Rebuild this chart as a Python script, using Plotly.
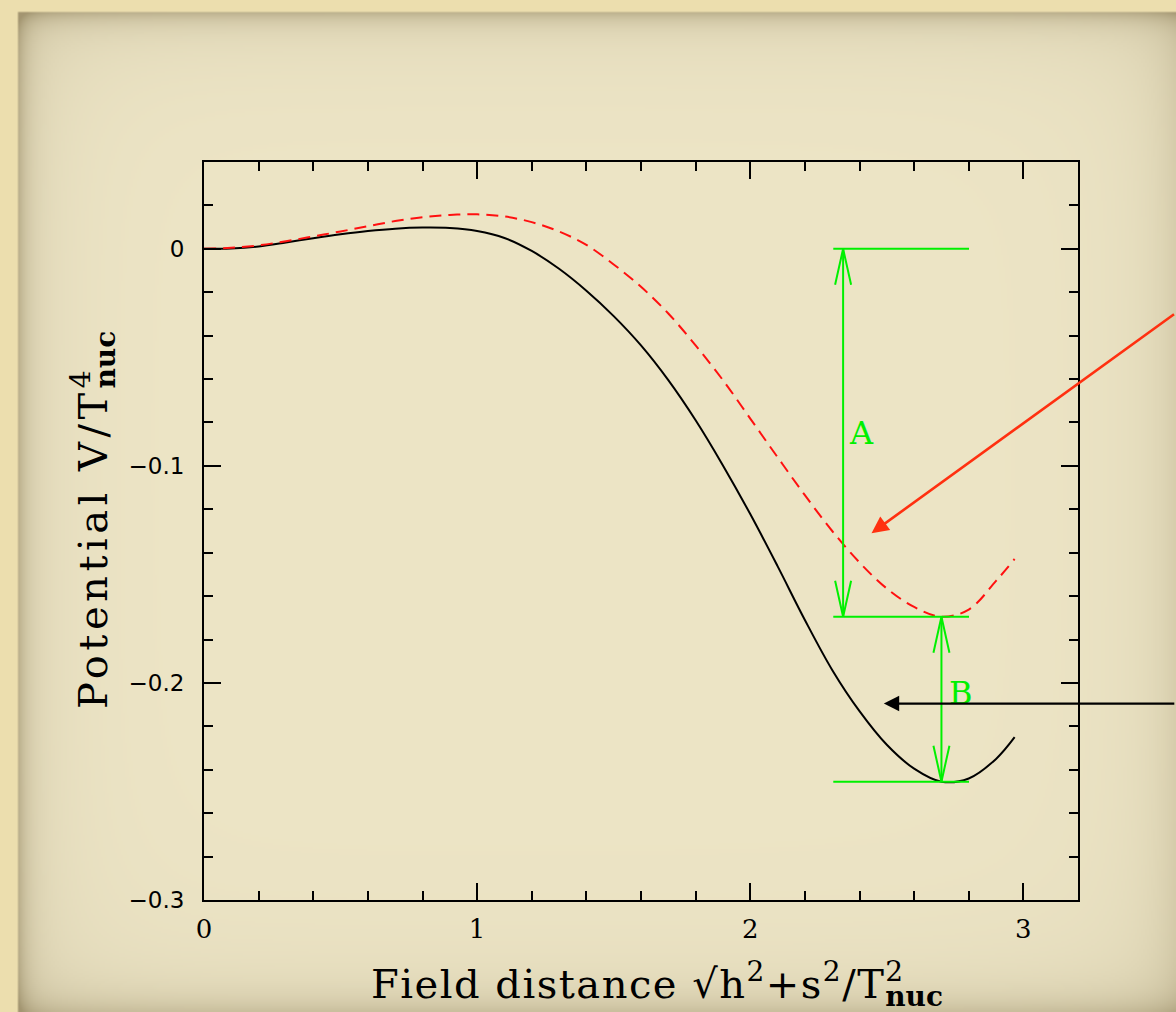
import base64
import struct
import zlib

import numpy as np
import plotly.graph_objects as go

# ---------------------------------------------------------------- data
# field distance sqrt(h^2+s^2)/T_nuc and potential V/T_nuc^4
phi_black = [0.0, 0.1, 0.2, 0.3, 0.4, 0.5, 0.6, 0.7, 0.8, 0.9,
             1.0, 1.1, 1.2, 1.3, 1.4, 1.5, 1.6, 1.7, 1.8, 1.9,
             2.0, 2.1, 2.2, 2.3, 2.4, 2.5, 2.6, 2.7, 2.8, 2.9, 2.968]
v_black = [0.0, 0.0002, 0.0011, 0.0029, 0.0049, 0.0067, 0.0082, 0.0093, 0.0098, 0.0096,
           0.0082, 0.0050, -0.0010, -0.0092, -0.0193, -0.0310, -0.0445, -0.0605, -0.0790, -0.0998,
           -0.1222, -0.1462, -0.1710, -0.1940, -0.2130, -0.2285, -0.2395, -0.2455, -0.2440, -0.2350, -0.2250]

phi_red = [0.0, 0.1, 0.2, 0.3, 0.4, 0.5, 0.6, 0.7, 0.8, 0.9,
           1.0, 1.1, 1.2, 1.3, 1.4, 1.5, 1.6, 1.7, 1.8, 1.9,
           2.0, 2.1, 2.2, 2.3, 2.4, 2.5, 2.6, 2.7, 2.8, 2.9, 2.968]
v_red = [0.0, 0.0005, 0.0016, 0.0035, 0.0057, 0.0080, 0.0104, 0.0128, 0.0146, 0.0156,
         0.0159, 0.0149, 0.0123, 0.0080, 0.0018, -0.0072, -0.0175, -0.0298, -0.0445, -0.0605,
         -0.0782, -0.0960, -0.1135, -0.1300, -0.1445, -0.1565, -0.1650, -0.1695, -0.1662, -0.1530, -0.1429]

x_ticks = [0, 1, 2, 3]
x_tick_text = ["0", "1", "2", "3"]
y_ticks = [0.0, -0.1, -0.2, -0.3]
y_tick_text = ["0", "\u22120.1", "\u22120.2", "\u22120.3"]

# level markers: bracket span and arrow positions along the field axis
level_span = [2.304, 2.801]
arrow_a_x = 2.340
label_a = ("A", 2.356, -0.0850)
label_b = ("B", 2.720, -0.2045)
red_pointer = (2.444, -0.131)
black_pointer = (2.489, -0.2095)

# ---------------------------------------------------------------- figure geometry
W, H = 1176, 1012
ML, MR, MT, MB = 204, 98, 162, 112
PW, PH = W - ML - MR, H - MT - MB

GREEN = "#00f000"
SERIF = "DejaVu Serif"


def png_uri(rgb):
    h, w, _ = rgb.shape
    raw = b"".join(b"\x00" + rgb[i].tobytes() for i in range(h))

    def chunk(tag, data):
        body = tag + data
        return struct.pack(">I", len(data)) + body + struct.pack(">I", zlib.crc32(body) & 0xFFFFFFFF)

    png = (b"\x89PNG\r\n\x1a\n"
           + chunk(b"IHDR", struct.pack(">IIBBBBB", w, h, 8, 2, 0, 0, 0))
           + chunk(b"IDAT", zlib.compress(raw, 9))
           + chunk(b"IEND", b""))
    return "data:image/png;base64," + base64.b64encode(png).decode()


def parchment(scale=2):
    w, h = W // scale, H // scale
    yy, xx = np.mgrid[0:h, 0:w].astype(float)
    xx *= scale
    yy *= scale
    base = np.array([237.0, 229.0, 198.0])
    shade = np.array([150.0, 136.0, 98.0])
    outer = np.array([236.0, 222.0, 174.0])
    dl = np.clip(xx - 18, 0, None)
    dt = np.clip(yy - 12, 0, None)
    dr = (W + 14) - xx
    db = (H + 8) - yy
    dark = (0.40 * np.exp(-dl / 10) + 0.16 * np.exp(-dl / 50)
            + 0.40 * np.exp(-dt / 10) + 0.14 * np.exp(-dt / 50)
            + 0.35 * np.exp(-dr / 22) + 0.10 * np.exp(-dr / 80)
            + 0.55 * np.exp(-db / 16) + 0.12 * np.exp(-db / 70))
    dark = np.clip(dark, 0, 0.85)[..., None]
    img = base * (1 - dark) + shade * dark
    outside = ((xx < 17) | (yy < 11))[..., None]
    img = np.where(outside, outer, img)
    return np.clip(img, 0, 255).astype(np.uint8)


fig = go.Figure()

fig.add_trace(go.Scatter(
    x=phi_black, y=v_black, mode="lines",
    line=dict(color="black", width=2, shape="spline", smoothing=1.0),
    hoverinfo="skip", showlegend=False))
fig.add_trace(go.Scatter(
    x=phi_red, y=v_red, mode="lines",
    line=dict(color="#ff1010", width=2, dash="12px,7px", shape="spline", smoothing=1.0),
    hoverinfo="skip", showlegend=False))

# level lines: false vacuum (0), minimum of each curve
lev_top = v_black[0]
lev_red = min(v_red)
lev_black = min(v_black)
arrow_b_x = phi_black[v_black.index(lev_black)]

shapes = []
for lev in (lev_top, lev_red, lev_black):
    shapes.append(dict(type="line", xref="x", yref="y", x0=level_span[0], x1=level_span[1],
                       y0=lev, y1=lev, line=dict(color=GREEN, width=2)))
for xa, y_hi, y_lo in ((arrow_a_x, lev_top, lev_red), (arrow_b_x, lev_red, lev_black)):
    shapes.append(dict(type="line", xref="x", yref="y", x0=xa, x1=xa, y0=y_hi, y1=y_lo,
                       line=dict(color=GREEN, width=2)))
    # open arrowheads at both ends
    shapes.append(dict(type="path", xref="x", yref="y", xsizemode="pixel", ysizemode="pixel",
                       xanchor=xa, yanchor=y_hi, path="M-8,-36 L0,0 L8,-36",
                       line=dict(color=GREEN, width=2)))
    shapes.append(dict(type="path", xref="x", yref="y", xsizemode="pixel", ysizemode="pixel",
                       xanchor=xa, yanchor=y_lo, path="M-8,36 L0,0 L8,36",
                       line=dict(color=GREEN, width=2)))

annotations = []
for txt, lx, ly in (label_a, label_b):
    annotations.append(dict(text=txt, x=lx, y=ly, xref="x", yref="y", showarrow=False,
                            xanchor="left", yanchor="middle",
                            font=dict(family=SERIF, size=32, color=GREEN)))

annotations.append(dict(x=red_pointer[0], y=red_pointer[1], xref="x", yref="y", text="",
                        showarrow=True, arrowhead=2, arrowsize=1.3, arrowwidth=2.6,
                        arrowcolor="#ff3010", ax=304, ay=-220, standoff=0))
annotations.append(dict(x=black_pointer[0], y=black_pointer[1], xref="x", yref="y", text="",
                        showarrow=True, arrowhead=2, arrowsize=1.4, arrowwidth=2.2,
                        arrowcolor="black", ax=292, ay=0, standoff=0))

# axis titles (T with stacked superscript and "nuc" subscript)
stack = ("<sup><span style='letter-spacing:-{}px'>{}</span></sup>"
         "<sub><b>nuc</b></sub>")
annotations.append(dict(
    text=("<span style='letter-spacing:1.5px'>Field distance \u221ah<sup>2</sup>+s<sup>2</sup>/T</span>"
          + stack.format(18, "2")),
    xref="paper", yref="paper", x=(657 - ML) / PW, y=(H - MB - 984) / PH,
    xanchor="center", yanchor="middle", showarrow=False,
    font=dict(family=SERIF, size=40, color="black")))
annotations.append(dict(
    text="<span style='letter-spacing:4.5px'>Potential V/T</span>" + stack.format(18, "4"),
    xref="paper", yref="paper", x=(95 - ML) / PW, y=(H - MB - 520) / PH,
    xanchor="center", yanchor="middle", textangle=-90, showarrow=False,
    font=dict(family=SERIF, size=40, color="black")))

axis_common = dict(showline=True, linewidth=2, linecolor="black", mirror="allticks",
                   ticks="inside", ticklen=17, tickwidth=2, tickcolor="black",
                   showgrid=False, zeroline=False)

fig.update_layout(
    width=W, height=H,
    margin=dict(l=ML, r=MR, t=MT, b=MB, pad=0, autoexpand=False),
    paper_bgcolor="rgb(237,229,198)",
    plot_bgcolor="rgba(0,0,0,0)",
    xaxis=dict(range=[0, 3.2], tickvals=x_ticks, ticktext=x_tick_text,
               minor=dict(ticks="inside", dtick=0.2, ticklen=9, tickwidth=2, tickcolor="black"),
               tickfont=dict(family=SERIF, size=26, color="black"),
               ticklabelstandoff=5, **axis_common),
    yaxis=dict(range=[-0.3, 0.04], tickvals=y_ticks, ticktext=y_tick_text,
               minor=dict(ticks="inside", dtick=0.02, ticklen=9, tickwidth=2, tickcolor="black"),
               tickfont=dict(family="DejaVu Sans", size=23, color="black"),
               ticklabelstandoff=13, **axis_common),
    shapes=shapes,
    annotations=annotations,
    images=[dict(source=png_uri(parchment()), xref="paper", yref="paper",
                 x=-ML / PW, y=1 + MT / PH, sizex=W / PW, sizey=H / PH,
                 xanchor="left", yanchor="top", sizing="stretch", layer="below")],
    showlegend=False,
)

fig.write_html("out.html")
